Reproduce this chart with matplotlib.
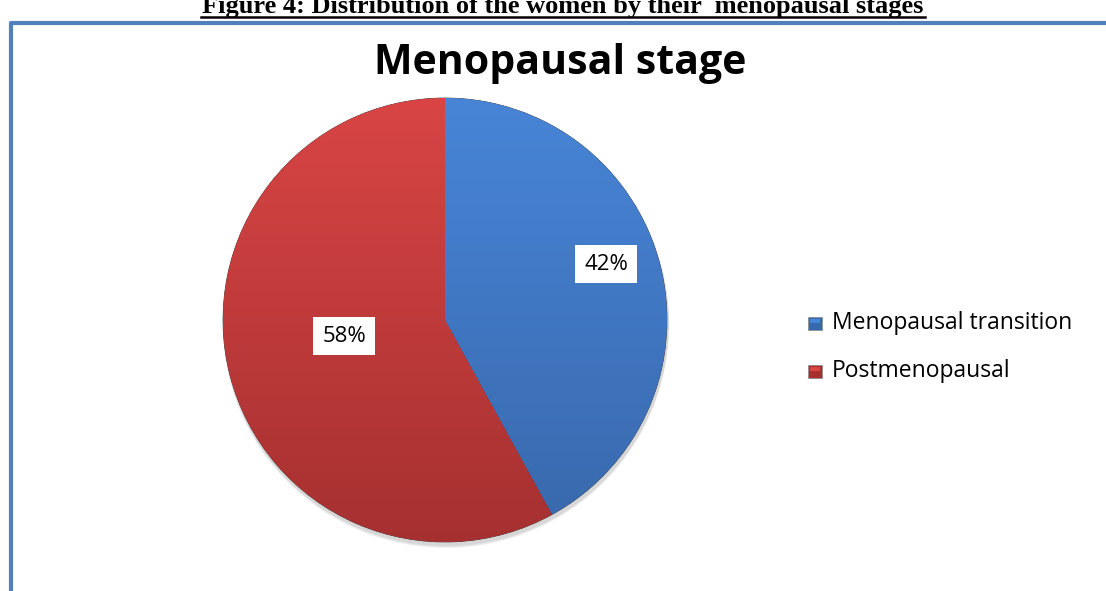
import numpy as np
import matplotlib
matplotlib.use("Agg")
import matplotlib.pyplot as plt
from matplotlib.colors import LinearSegmentedColormap
from matplotlib.patches import Rectangle, Circle

# data
categories = ["Menopausal transition", "Postmenopausal"]
shares = [42, 58]
pct_labels = ["42%", "58%"]
top_colors = ["#4885d7", "#d94545"]
bottom_colors = ["#3868ac", "#a63030"]

W, H = 1106, 591
fig = plt.figure(figsize=(W / 100, H / 100), dpi=100)
ax = fig.add_axes([0, 0, 1, 1])

cx, cy, r = 445, H - 320, 222

# soft shadow under the pie
for k, a in enumerate([0.05, 0.05, 0.06]):
    ax.add_patch(Circle((cx + 1, cy - 3 - k), r + 1, facecolor="black", alpha=a,
                        edgecolor="none", zorder=0))

wedges, _ = ax.pie(shares, startangle=90, counterclock=False, center=(cx, cy), radius=r,
                   colors=top_colors, wedgeprops=dict(edgecolor="#333333", linewidth=0.5),
                   frame=True)
ax.set_aspect("equal")
ax.axis("off")

for w, c1, c2 in zip(wedges, top_colors, bottom_colors):
    cmap = LinearSegmentedColormap.from_list("g", [c2, c1])
    grad = np.linspace(0, 1, 256).reshape(-1, 1)
    im = ax.imshow(grad, cmap=cmap, extent=[cx - r, cx + r, cy - r, cy + r],
                   origin="lower", aspect="auto", zorder=w.get_zorder() + 0.1)
    im.set_clip_path(w)
ax.set_xlim(0, W)
ax.set_ylim(0, H)

# caption above the frame (top clipped like the source scan)
ax.text(563, H - 13, "Figure 4: Distribution of the women by their  menopausal stages",
        ha="center", va="baseline", fontsize=19, fontweight="bold",
        family="Liberation Serif")
ax.plot([201, 925], [H - 17, H - 17], color="black", lw=1.8)

# blue frame
ax.plot([11, 11, W + 5], [-5, H - 23, H - 23], color="#4f81bd", lw=3, solid_capstyle="butt")

label_pos = [(606, H - 264), (344, H - 336)]
for txt, (x, y) in zip(pct_labels, label_pos):
    ax.text(x, y, txt, ha="center", va="center", fontsize=16, family="Open Sans",
            zorder=10, bbox=dict(boxstyle="square,pad=0.4", fc="white", ec="none"))

# title
ax.text(560, H - 64, "Menopausal stage", ha="center", va="center", fontsize=29.5,
        fontweight="bold", family="Open Sans", zorder=10)

# legend
for i, (name, c1, c2) in enumerate(zip(categories, top_colors, bottom_colors)):
    y = H - 323 - i * 48
    ax.add_patch(Rectangle((808, y - 6.5), 14, 13, facecolor=c2, edgecolor="#888888",
                           lw=0.5, zorder=10))
    ax.add_patch(Rectangle((810, y + 0.5), 10, 4, facecolor=c1, edgecolor="none", zorder=11))
    ax.text(832, y, name, ha="left", va="center", fontsize=16.5, family="Open Sans",
            fontweight="medium", zorder=10)

fig.savefig("out.png", dpi=100)
